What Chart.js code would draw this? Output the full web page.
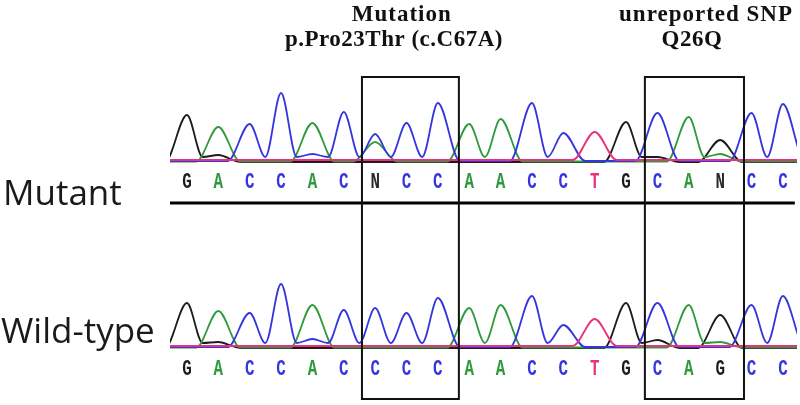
<!DOCTYPE html>
<html>
<head>
<meta charset="utf-8">
<script src="https://cdn.jsdelivr.net/npm/chart.js@4.4.1/dist/chart.umd.min.js"></script>
<style>
  html, body { margin: 0; padding: 0; background: #fff; }
  #wrap { position: relative; width: 800px; height: 405px; }
</style>
</head>
<body>
<div id="wrap"><canvas id="myChart"></canvas></div>
<script>
// base calls, one per position
const mutantCalls = ['G','A','C','C','A','C','N','C','C','A','A','C','C','T','G','C','A','N','C','C'];
const wildCalls   = ['G','A','C','C','A','C','C','C','C','A','A','C','C','T','G','C','A','G','C','C'];

// dye of the tallest peak at each position (the N's resolved)
const mutantMainDye = ['G','A','C','C','A','C','C','C','C','A','A','C','C','T','G','C','A','G','C','C'];

// peak heights
const mutantHeights = [45, 33, 36, 67, 37, 48, 26, 37, 57, 36, 41, 57, 27, 28, 38, 47, 43, 20, 47, 56];
const wildHeights   = [43, 35, 33, 62, 41, 36, 38, 33, 48, 38, 41, 50, 21, 27, 43, 43, 41, 31, 41, 50];

// secondary peaks: [position, dye, height]
const mutantMinor = [[6, 'A', 18], [17, 'A', 6], [4, 'C', 6], [1, 'G', 5], [15, 'G', 3]];
const wildMinor   = [[4, 'C', 7], [15, 'G', 6], [17, 'A', 4], [1, 'G', 4]];

const dyes = ['C', 'A', 'G', 'T'];
const dyeColors = { G: '#1c1c1c', A: '#2f9a3c', C: '#3535de', T: '#e8327e', N: '#2a2a2a' };

const panelNames = ['Mutant', 'Wild-type'];
const boxRanges = [[5.58, 8.67], [14.6, 17.76]];
const titleLines = [
  ['Mutation', 'p.Pro23Thr (c.C67A)'],
  ['unreported SNP', 'Q26Q']
];
const titleCenters = [[6.85, 6.6], [16.55, 16.1]];

// trace shape
const HALF = 0.7;
const VALLEY = 3;
const baseOffset = { T: 0, C: -1, A: -1.5, G: -2 };

function buildTrace(mainDye, heights, minor, dye) {
  const peaks = {};
  mainDye.forEach((d, i) => { if (d === dye) peaks[i] = heights[i]; });
  minor.forEach(([i, d, h]) => {
    if (d === dye) peaks[i] = Math.max(peaks[i] || 0, h);
  });
  const idx = Object.keys(peaks).map(Number).sort((a, b) => a - b);
  const base = baseOffset[dye];
  const pts = [{ x: -1, y: base }];
  idx.forEach(i => {
    if (peaks[i - 1] === undefined) pts.push({ x: i - HALF, y: base });
    pts.push({ x: i, y: peaks[i] });
    if (peaks[i + 1] !== undefined) pts.push({ x: i + 0.5, y: VALLEY });
    else pts.push({ x: i + HALF, y: base });
  });
  pts.push({ x: 20.5, y: base });
  return pts;
}

const datasets = [];
[
  { dyeList: mutantMainDye, h: mutantHeights, minor: mutantMinor, axis: 'yM' },
  { dyeList: wildCalls, h: wildHeights, minor: wildMinor, axis: 'yW' }
].forEach(panel => {
  dyes.forEach((dye, k) => {
    datasets.push({
      data: buildTrace(panel.dyeList, panel.h, panel.minor, dye),
      yAxisID: panel.axis,
      borderColor: dyeColors[dye],
      borderWidth: 1.8,
      pointRadius: 0,
      fill: false,
      cubicInterpolationMode: 'monotone',
      order: dye === 'T' ? 0 : k + 1
    });
  });
});

// letters, underline, boxes and text
const overlay = {
  id: 'overlay',
  afterDatasetsDraw(chart) {
    const { ctx, scales: { x, yM, yW } } = chart;
    ctx.save();

    // base calls
    [[mutantCalls, yM, -22], [wildCalls, yW, -23]].forEach(([calls, ys, lvl]) => {
      calls.forEach((b, i) => {
        ctx.save();
        ctx.translate(x.getPixelForValue(i), ys.getPixelForValue(lvl));
        ctx.scale(0.72, 1);
        ctx.font = 'bold 22px "Liberation Mono"';
        ctx.textAlign = 'center';
        ctx.textBaseline = 'middle';
        ctx.fillStyle = dyeColors[b];
        ctx.fillText(b, 0, 0);
        ctx.restore();
      });
    });

    // thick line under the mutant calls
    ctx.strokeStyle = '#000';
    ctx.lineWidth = 3;
    ctx.beginPath();
    ctx.moveTo(x.left, yM.getPixelForValue(-43));
    ctx.lineTo(x.getPixelForValue(19.38), yM.getPixelForValue(-43));
    ctx.stroke();

    // boxes across both panels
    ctx.lineWidth = 2;
    ctx.strokeStyle = '#111';
    boxRanges.forEach(([a, b]) => {
      const l = x.getPixelForValue(a), r = x.getPixelForValue(b);
      const t = yM.getPixelForValue(83), btm = yW.getPixelForValue(-53);
      ctx.strokeRect(l, t, r - l, btm - t);
    });

    // titles
    ctx.fillStyle = '#111';
    ctx.textAlign = 'center';
    ctx.textBaseline = 'alphabetic';
    ctx.font = 'bold 23px "Liberation Serif"';
    ctx.letterSpacing = '1px';
    titleLines.forEach((lines, k) => {
      ctx.fillText(lines[0], x.getPixelForValue(titleCenters[k][0]), 21);
      ctx.letterSpacing = '0.5px';
      ctx.fillText(lines[1], x.getPixelForValue(titleCenters[k][1]), 46);
      ctx.letterSpacing = '1px';
    });
    ctx.letterSpacing = '0px';

    // panel names
    ctx.font = '35px "Open Sans"';
    ctx.textAlign = 'left';
    ctx.fillStyle = '#1a1a1a';
    ctx.fillText(panelNames[0], 3, yM.getPixelForValue(-45));
    ctx.fillText(panelNames[1], 1, yW.getPixelForValue(3));

    ctx.restore();
  }
};

new Chart(document.getElementById('myChart').getContext('2d'), {
  type: 'line',
  data: { datasets: datasets },
  options: {
    responsive: true,
    maintainAspectRatio: false,
    animation: false,
    layout: { padding: { left: 170, right: 3, top: 0, bottom: 0 } },
    plugins: { legend: { display: false }, tooltip: { enabled: false } },
    scales: {
      x: { type: 'linear', min: -0.54, max: 19.45, display: false },
      yM: { type: 'linear', min: -245, max: 160, display: false },
      yW: { type: 'linear', min: -59, max: 346, display: false }
    }
  },
  plugins: [overlay]
});
</script>
</body>
</html>
